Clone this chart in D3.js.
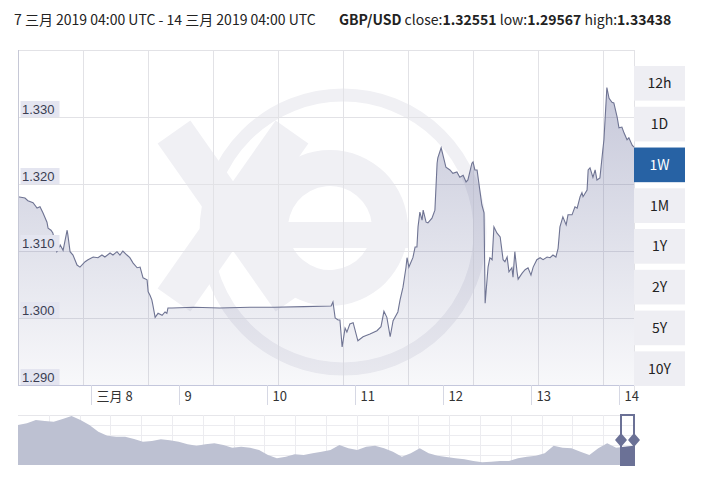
<!DOCTYPE html>
<html><head><meta charset="utf-8">
<script src="https://cdnjs.cloudflare.com/ajax/libs/d3/7.8.5/d3.min.js"></script>
<style>
html,body{margin:0;padding:0;background:#fff;}
svg{display:block;}
</style></head>
<body>
<svg id="chart" width="704" height="485"></svg>
<script>
// ---------- DATA ----------
const pair = "GBP/USD";
const closeVal = "1.32551", lowVal = "1.29567", highVal = "1.33438";
const rangeLabel = "7 三月 2019 04:00 UTC - 14 三月 2019 04:00 UTC";
// hours after 7 Mar 2019 04:00 UTC
const hours = [0,1.9,2.7,4.1,5.2,6.0,6.8,7.9,8.2,9.0,9.5,10.6,11.5,12.3,13.4,13.6,14.2,15.0,16.1,16.9,18.3,19.1,20.5,21.8,22.9,23.7,25.1,25.9,27.0,27.8,28.6,29.7,30.5,31.4,32.5,33.3,34.1,35.2,35.5,36.0,36.5,36.8,37.4,38.2,39.3,40.1,40.6,40.9,42.0,48,55,63.3,70,78,85.4,85.9,86.5,87.3,87.8,88.4,89.2,89.7,90.5,91.4,92.5,92.7,94.1,96.0,97.9,99.0,99.8,100.6,101.5,102.3,103.6,104.2,105.0,105.8,106.1,106.6,107.7,108.3,108.8,109.1,109.6,110.2,110.5,111.3,111.8,112.9,113.7,114.3,114.5,115.4,115.9,116.7,117.8,118.6,119.7,120.5,121.4,122.2,122.7,123.8,124.1,124.6,125.2,125.7,126.5,127.1,127.4,128.2,128.7,129.3,129.8,130.6,131.5,132.3,132.8,133.4,133.9,134.7,135.0,135.5,136.1,136.4,137.5,138.3,139.1,139.9,140.5,141.5,142.4,143.2,144.3,145.1,145.9,146.7,147.3,147.8,148.6,149.5,150.0,151.1,151.9,152.5,153.3,153.8,154.1,155.2,155.5,156.0,156.8,157.4,157.9,158.7,159.5,159.8,160.6,161.2,162.0,162.5,163.4,163.9,164.7,165.3,166.1,166.6,167.5,168];
const rates = [1.3181,1.3179,1.3175,1.3172,1.3164,1.3166,1.3157,1.3143,1.3134,1.3131,1.3127,1.3099,1.3109,1.3101,1.3131,1.3124,1.3099,1.3094,1.3079,1.3076,1.3084,1.3087,1.3091,1.3090,1.3094,1.3091,1.3097,1.3094,1.3099,1.3094,1.3100,1.3094,1.3090,1.3082,1.3075,1.3076,1.3060,1.3057,1.3039,1.3034,1.3027,1.3019,1.3001,1.3007,1.3004,1.3009,1.3007,1.3015,1.3015,1.3016,1.3015,1.3016,1.3016,1.3017,1.3018,1.3024,1.3000,1.2997,1.2997,1.29567,1.2985,1.2979,1.2991,1.2993,1.2970,1.2966,1.2972,1.2976,1.2981,1.2987,1.3010,1.3001,1.2972,1.2996,1.3009,1.3027,1.3046,1.3075,1.3090,1.3076,1.3090,1.3106,1.3106,1.3136,1.3158,1.3146,1.3161,1.3143,1.3142,1.3149,1.3161,1.3231,1.3239,1.3254,1.3243,1.3225,1.3221,1.3216,1.3218,1.3210,1.3213,1.3203,1.3206,1.3231,1.3233,1.3221,1.3221,1.3201,1.3169,1.3157,1.3022,1.3076,1.3090,1.3087,1.3136,1.3127,1.3121,1.3087,1.3084,1.3091,1.3069,1.3075,1.3061,1.3099,1.3069,1.3058,1.3067,1.3072,1.3075,1.3064,1.3076,1.3087,1.3090,1.3087,1.3091,1.3090,1.3094,1.3091,1.3104,1.3136,1.3151,1.3139,1.3154,1.3154,1.3166,1.3164,1.3181,1.3187,1.3181,1.3191,1.3221,1.3224,1.3210,1.3221,1.3206,1.3209,1.3251,1.3266,1.33438,1.3328,1.3322,1.3321,1.3300,1.3284,1.3285,1.3276,1.3266,1.3269,1.3258,1.32551];
const yTicks = [1.290,1.300,1.310,1.320,1.330];
const dayTicks = [8,9,10,11,12,13,14];
const dayLabels = ["三月 8","9","10","11","12","13","14"];
const periods = ["12h","1D","1W","1M","1Y","2Y","5Y","10Y"];
const activePeriod = "1W";
// navigator: long history, evenly spaced samples
const navValues = [1.87,1.90,1.96,1.942,1.93,1.978,2.032,1.96,1.87,1.75,1.678,1.66,1.66,1.618,1.57,1.582,1.612,1.594,1.57,1.522,1.498,1.522,1.54,1.51,1.462,1.48,1.462,1.42,1.33,1.27,1.30,1.342,1.33,1.36,1.39,1.42,1.51,1.45,1.42,1.48,1.498,1.45,1.39,1.30,1.36,1.45,1.36,1.318,1.294,1.27,1.252,1.222,1.198,1.21,1.222,1.222,1.27,1.30,1.318,1.36,1.498,1.462,1.45,1.39,1.33,1.45,1.54,1.462,1.48,1.498];

// ---------- LAYOUT ----------
const svg = d3.select("#chart");
const L = 18, R = 634, T = 50, B = 385;
const start = Date.UTC(2019,2,7,4);
const dates = hours.map(h => new Date(start + h*3600e3));
const data = dates.map((d,i)=>({d, v: rates[i]}));

const x = d3.scaleUtc().domain([new Date(start), new Date(start+168*3600e3)]).range([L,R]);
const y = d3.scaleLinear().domain([1.29,1.34]).range([B,T]);

// defs
const defs = svg.append("defs");
const grad = defs.append("linearGradient").attr("id","areaGrad")
  .attr("gradientUnits","userSpaceOnUse").attr("x1",0).attr("x2",0).attr("y1",80).attr("y2",B);
grad.append("stop").attr("offset",0).attr("stop-color","#4a5088").attr("stop-opacity",0.32);
grad.append("stop").attr("offset",1).attr("stop-color","#4a5088").attr("stop-opacity",0.04);
defs.append("clipPath").attr("id","plotClip").append("rect").attr("x",L).attr("y",T).attr("width",R-L).attr("height",B-T);

// watermark
const wmc = "#f0f0f4";
const wm = svg.append("g").attr("clip-path","url(#plotClip)").attr("fill",wmc).attr("stroke","none");
wm.append("circle").attr("cx",343).attr("cy",232).attr("r",137).attr("fill","none").attr("stroke",wmc).attr("stroke-width",13);
wm.append("line").attr("x1",174).attr("y1",132).attr("x2",292).attr("y2",300).attr("stroke",wmc).attr("stroke-width",40);
wm.append("line").attr("x1",292).attr("y1",132).attr("x2",174).attr("y2",300).attr("stroke",wmc).attr("stroke-width",40);
const eArc = d3.arc().innerRadius(42).outerRadius(78).startAngle(Math.PI/2).endAngle(Math.PI*2+Math.PI*0.72);
wm.append("path").attr("transform","translate(330,228)").attr("d",eArc());
wm.append("rect").attr("x",330-78).attr("y",222).attr("width",156).attr("height",26);

// grid
const grid = svg.append("g").attr("stroke","#e2e2e6").attr("stroke-width",1);
d3.range(L+65, R, 65).forEach(px=>{
  grid.append("line").attr("x1",px+0.5).attr("x2",px+0.5).attr("y1",T).attr("y2",B);
});
grid.append("line").attr("x1",R+0.5).attr("x2",R+0.5).attr("y1",T).attr("y2",B+8);
yTicks.concat([1.34]).forEach(t=>{
  grid.append("line").attr("x1",L).attr("x2",R).attr("y1",Math.round(y(t))+0.5).attr("y2",Math.round(y(t))+0.5);
});

// area & line
const area = d3.area().x(d=>x(d.d)).y0(B).y1(d=>y(d.v)).curve(d3.curveLinear);
const line = d3.line().x(d=>x(d.d)).y(d=>y(d.v)).curve(d3.curveLinear);
svg.append("path").datum(data).attr("d",area).attr("fill","url(#areaGrad)");
svg.append("path").datum(data).attr("d",line).attr("fill","none").attr("stroke","#6f7493").attr("stroke-width",1.1);

// axes lines
svg.append("line").attr("x1",L+0.5).attr("x2",L+0.5).attr("y1",T).attr("y2",B).attr("stroke","#c6c8d6");
svg.append("line").attr("x1",L).attr("x2",R).attr("y1",B+0.5).attr("y2",B+0.5).attr("stroke","#c4c7dc");

// x axis ticks
const xa = svg.append("g");
dayTicks.forEach((dd,i)=>{
  const px = Math.round(x(new Date(Date.UTC(2019,2,dd))))+0.5;
  xa.append("line").attr("x1",px).attr("x2",px).attr("y1",B).attr("y2",B+20).attr("stroke","#d6d8e4");
  xa.append("text").attr("x",px+5).attr("y",B+16).text(dayLabels[i])
    .attr("font-family","'Noto Sans CJK SC','Noto Sans',sans-serif").attr("font-size",13).attr("fill","#333");
});

// y labels
const fmt = d3.format(".3f");
yTicks.forEach(t=>{
  const gy = Math.round(y(t));
  svg.append("rect").attr("x",20.5).attr("y",gy-16).attr("width",39).attr("height",16).attr("fill","#e4e5f0");
  svg.append("text").attr("x",22).attr("y",gy-3).text(fmt(t))
    .attr("font-family","'Liberation Sans',Arial,sans-serif").attr("font-size",13).attr("fill","#3a3d52");
});

// header
const hf = "'Noto Sans CJK SC','Noto Sans',sans-serif";
svg.append("text").attr("x",14).attr("y",25).attr("font-family",hf).attr("font-size",14).attr("fill","#222").text(rangeLabel);
const h2 = svg.append("text").attr("x",339).attr("y",25).attr("font-family",hf).attr("font-size",14).attr("fill","#222");
h2.append("tspan").attr("font-weight","bold").text(pair);
h2.append("tspan").text(" close:");
h2.append("tspan").attr("font-weight","bold").text(closeVal);
h2.append("tspan").text(" low:");
h2.append("tspan").attr("font-weight","bold").text(lowVal);
h2.append("tspan").text(" high:");
h2.append("tspan").attr("font-weight","bold").text(highVal);

// buttons
const bw = 51;
const by = d3.scaleBand().domain(periods).range([66, 66+periods.length*40]).paddingInner(0.15).paddingOuter(0);
periods.forEach(p=>{
  const act = p===activePeriod;
  const g = svg.append("g");
  g.append("rect").attr("x",R).attr("y",by(p)).attr("width",bw).attr("height",by.bandwidth())
    .attr("fill",act?"#2762a4":"#eeeef3");
  g.append("text").attr("x",R+bw/2).attr("y",by(p)+by.bandwidth()/2+5).attr("text-anchor","middle")
    .attr("font-family",hf).attr("font-size",14).attr("fill",act?"#fff":"#222").text(p);
});

// navigator
const NT = 415, NB = 465, NL = 18, NR = 634, HL = 621;
const nx = d3.scaleLinear().domain([0,navValues.length-1]).range([NL,NR]);
const ny = d3.scaleLinear().domain([1.15,2.05]).range([NB,NT]);
const ng = svg.append("g");
ng.append("line").attr("x1",NL).attr("x2",NR).attr("y1",NT+0.5).attr("y2",NT+0.5).attr("stroke","#e6e6ea");
d3.range(1,5).forEach(k=>{
  const yy = NT + k*10 + 0.5;
  ng.append("line").attr("x1",NL).attr("x2",NR).attr("y1",yy).attr("y2",yy).attr("stroke","#ececf0");
});
d3.range(NL+30.8, NR, 30.8).forEach(px=>{
  ng.append("line").attr("x1",Math.round(px)+0.5).attr("x2",Math.round(px)+0.5).attr("y1",NT).attr("y2",NB).attr("stroke","#ececf0");
});
const narea = d3.area().x((d,i)=>nx(i)).y0(NB).y1(d=>ny(d));
ng.append("path").datum(navValues).attr("d",narea).attr("fill","#bdc1d2");
defs.append("clipPath").attr("id","handleClip").append("rect").attr("x",HL).attr("y",NT).attr("width",NR-HL).attr("height",NB-NT);
ng.append("path").datum(navValues).attr("d",narea).attr("fill","#6b7196").attr("clip-path","url(#handleClip)");
ng.append("rect").attr("x",HL).attr("y",NT).attr("width",NR-HL).attr("height",NB-NT)
  .attr("fill","none").attr("stroke","#6b7196").attr("stroke-width",2);
[HL, NR].forEach(px=>{
  ng.append("path").attr("d",`M${px-6},440 L${px},433 L${px+6},440 L${px},447 Z`).attr("fill","#6b7196");
});
</script>
</body></html>
